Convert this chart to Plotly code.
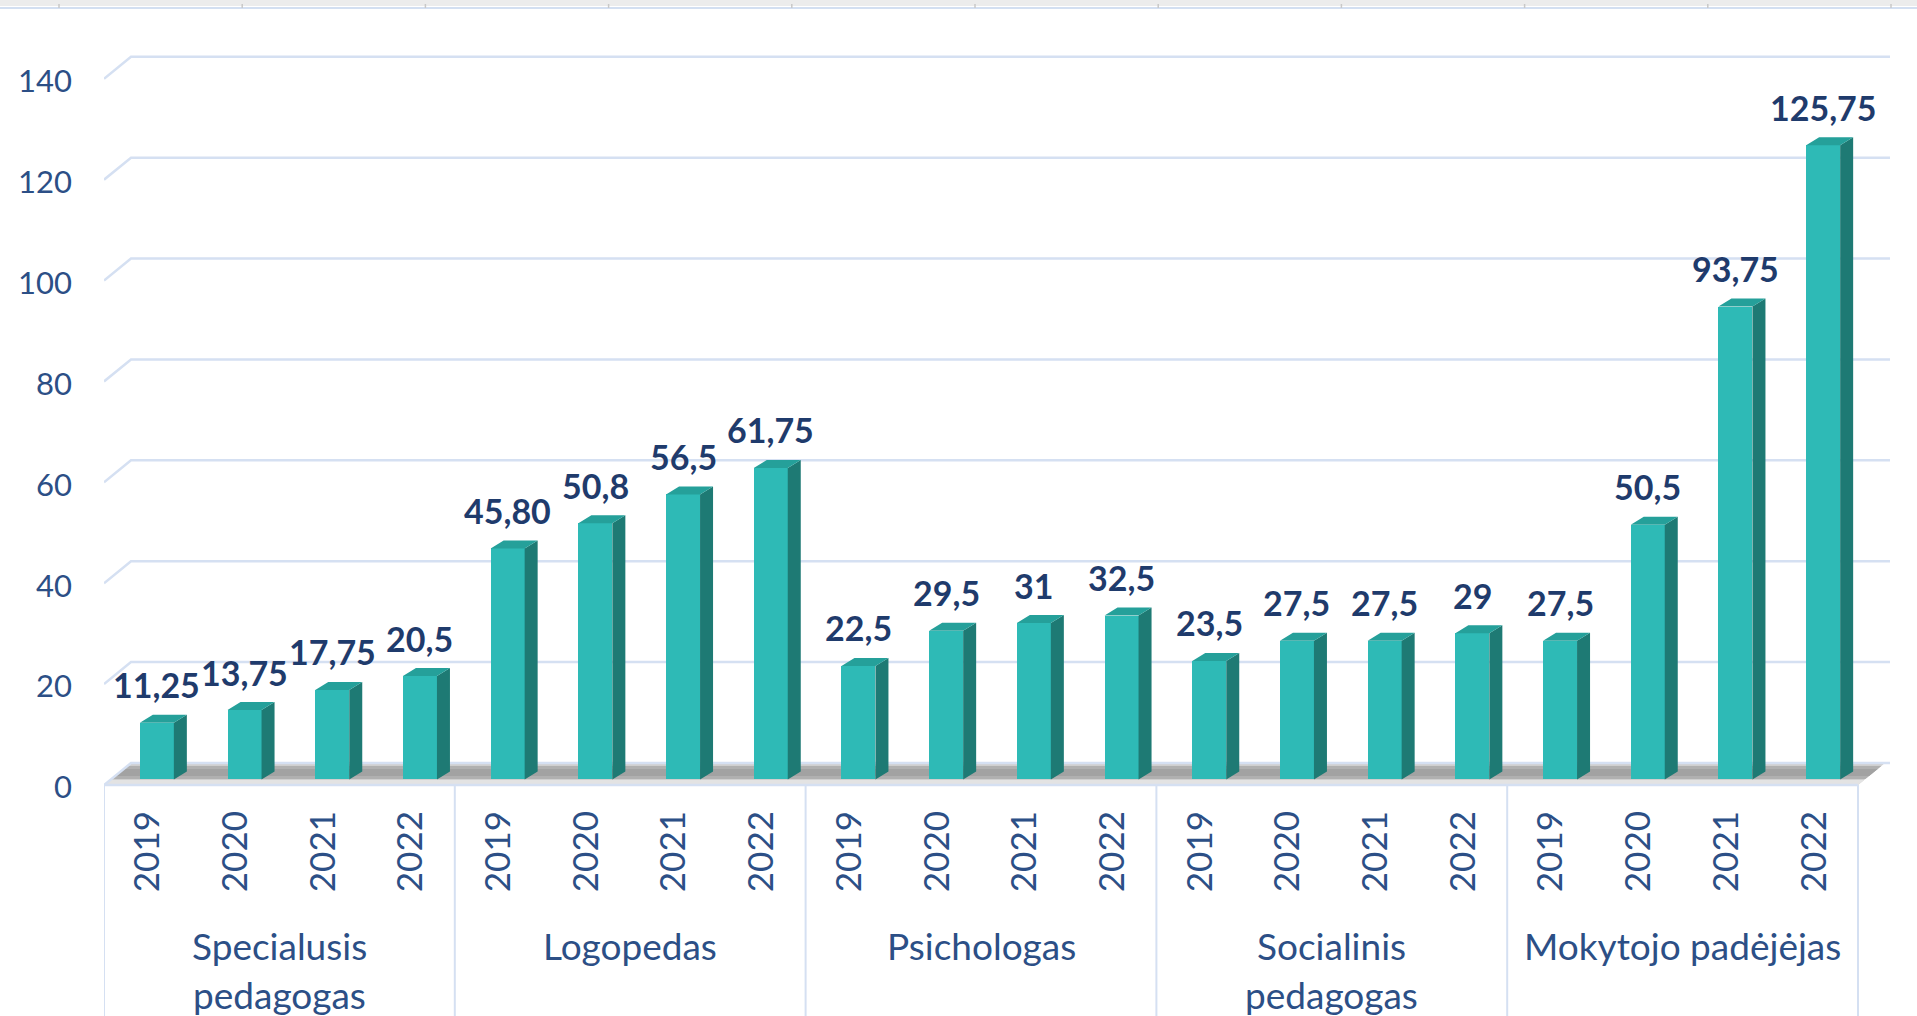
import plotly.graph_objects as go

# ---------------- data ----------------
groups = ["Specialusis<br>pedagogas", "Logopedas", "Psichologas",
          "Socialinis<br>pedagogas", "Mokytojo padėjėjas"]
years = ["2019", "2020", "2021", "2022"]
spec_ped = [11.25, 13.75, 17.75, 20.5]
logoped = [45.80, 50.8, 56.5, 61.75]
psich = [22.5, 29.5, 31, 32.5]
soc_ped = [23.5, 27.5, 27.5, 29]
mok_pad = [27.5, 50.5, 93.75, 125.75]
value_labels = ["11,25", "13,75", "17,75", "20,5",
                "45,80", "50,8", "56,5", "61,75",
                "22,5", "29,5", "31", "32,5",
                "23,5", "27,5", "27,5", "29",
                "27,5", "50,5", "93,75", "125,75"]
y_ticks = [0, 20, 40, 60, 80, 100, 120, 140]

series = [spec_ped, logoped, psich, soc_ped, mok_pad]
values = [v for s in series for v in s]
idx = list(range(len(values)))
tick_text = years * len(groups)

# ---------------- geometry / style ----------------
W, H = 1917, 1016
ML, MR, MT, MB = 104, 25, 43, 229
PW, PH = W - ML - MR, H - MT - MB
X0, X1 = -0.5, 19.5 + 34 / 87.7
Y0, Y1 = -1.5, 146
SX = PW / (X1 - X0)          # px per slot
SY = PH / (Y1 - Y0)          # px per unit
dxu = lambda p: p / SX
dyu = lambda p: p / SY
py0 = MT + Y1 * SY           # pixel of value 0
def uy(py):                  # pixel y -> data y
    return (py0 - py) / SY
def paper_x(px):
    return (px - ML) / PW
def paper_y(py):
    return (MT + PH - py) / PH

FRONT = "#2EBAB6"
SIDE = "#1E7A74"
TOP = "#25A09A"
GRID = "#D5E0F2"
TXT = "#2C4F86"
LBL = "#1F3B6C"
FONT = "Lato"

BAR_W = dxu(34)
BAR_OFF = -dxu(8)
DEP_X, DEP_Y = dxu(13), dyu(8)

fig = go.Figure()

# front faces
fig.add_trace(go.Bar(
    x=idx, y=values, width=BAR_W, offset=BAR_OFF,
    marker=dict(color=FRONT, line=dict(width=0)),
    hoverinfo="skip", showlegend=False))

# side & top faces (3D look) from the same data
sx, sy, tx, ty = [], [], [], []
for i, v in zip(idx, values):
    L = i + BAR_OFF
    R = L + BAR_W
    sx += [R, R + DEP_X, R + DEP_X, R, R, None]
    sy += [0, DEP_Y, v + DEP_Y, v, 0, None]
    tx += [L, R, R + DEP_X, L + DEP_X, L, None]
    ty += [v, v, v + DEP_Y, v + DEP_Y, v, None]
fig.add_trace(go.Scatter(x=sx, y=sy, mode="lines", fill="toself",
                         fillcolor=SIDE, line=dict(width=0),
                         hoverinfo="skip", showlegend=False))
fig.add_trace(go.Scatter(x=tx, y=ty, mode="lines", fill="toself",
                         fillcolor=TOP, line=dict(width=0),
                         hoverinfo="skip", showlegend=False))

shapes = []
# floor (3D base plane)
back_dx = dxu(27)
def floor_strip(p_front, p_back, color):
    a = (785 - p_front) / 22.0
    b = (785 - p_back) / 22.0
    yf, yb = uy(p_front), uy(p_back)
    return dict(type="path", layer="below", line=dict(width=0), fillcolor=color,
                path=(f"M {-0.5 + back_dx*a},{yf} L {19.5 + back_dx*a},{yf} "
                      f"L {19.5 + back_dx*b},{yb} L {-0.5 + back_dx*b},{yb} Z"))
shapes.append(floor_strip(785, 763, "#CFCFCF"))
shapes.append(floor_strip(779, 766, "#B0B0B0"))
shapes.append(floor_strip(776, 769, "#A2A2A2"))
shapes.append(floor_strip(785, 780, "#E3E3E3"))

# gridlines (back wall + left diagonal)
grid_right = X0 + dxu(1890 - ML)
for v in y_ticks:
    yf = v + uy(785)
    yb = v + uy(763)
    shapes.append(dict(type="path", layer="below",
                       line=dict(color=GRID, width=2.5),
                       path=f"M {-0.5},{yf} L {-0.5 + back_dx},{yb} L {grid_right},{yb}"))

# front edge of the x axis
shapes.append(dict(type="line", layer="below", xref="x", yref="y",
                   x0=-0.5, x1=19.5, y0=uy(785), y1=uy(785),
                   line=dict(color=GRID, width=2.5)))
# category dividers
for k in range(len(groups) + 1):
    xv = -0.5 + 4 * k
    shapes.append(dict(type="line", xref="x", yref="paper",
                       x0=xv, x1=xv, y0=paper_y(785), y1=paper_y(1020),
                       line=dict(color=GRID, width=2)))

# top strip of the screenshot
shapes.append(dict(type="rect", xref="paper", yref="paper",
                   x0=paper_x(0), x1=paper_x(W), y0=paper_y(0), y1=paper_y(6),
                   fillcolor="#ECECEC", line=dict(width=0)))
shapes.append(dict(type="line", xref="paper", yref="paper",
                   x0=paper_x(0), x1=paper_x(W), y0=paper_y(8), y1=paper_y(8),
                   line=dict(color="#D3DFF1", width=2)))
for k in range(11):
    px = 59 + 183.2 * k
    shapes.append(dict(type="line", xref="paper", yref="paper",
                       x0=paper_x(px), x1=paper_x(px), y0=paper_y(4), y1=paper_y(8),
                       line=dict(color="#C8C8C8", width=1.5)))

annotations = []
# value labels
for i, v, t in zip(idx, values, value_labels):
    annotations.append(dict(x=i + BAR_OFF + BAR_W / 2, y=v, xref="x", yref="y",
                            text=f"<b>{t}</b>", showarrow=False,
                            yanchor="middle", yshift=38,
                            font=dict(family=FONT, size=34, color=LBL)))
# group labels
line_y = [945, 994]
for g, name in enumerate(groups):
    for j, part in enumerate(name.split("<br>")):
        annotations.append(dict(x=4 * g + 1.5, y=paper_y(line_y[j]),
                                xref="x", yref="paper", text=part,
                                showarrow=False, xanchor="center", yanchor="middle",
                                font=dict(family=FONT, size=37, color=TXT)))

fig.update_layout(
    width=W, height=H,
    margin=dict(l=ML, r=MR, t=MT, b=MB, pad=0, autoexpand=False),
    paper_bgcolor="white", plot_bgcolor="rgba(0,0,0,0)",
    shapes=shapes, annotations=annotations,
    bargap=0, showlegend=False,
    xaxis=dict(range=[X0, X1], tickmode="array", tickvals=idx, ticktext=tick_text,
               tickangle=-90, showgrid=False, zeroline=False, showline=False,
               ticks="", ticklabelstandoff=16, automargin=False,
               tickfont=dict(family=FONT, size=35, color=TXT)),
    yaxis=dict(range=[Y0, Y1], tickmode="array", tickvals=y_ticks,
               ticktext=[str(t) for t in y_ticks],
               showgrid=False, zeroline=False, showline=False, ticks="",
               ticklabelstandoff=31, ticklabelshift=8, automargin=False,
               tickfont=dict(family=FONT, size=31, color=TXT)),
)

fig.write_html("out.html", config={"displayModeBar": False},
               post_script="document.body.style.margin='0px';document.body.style.overflow='hidden';")
